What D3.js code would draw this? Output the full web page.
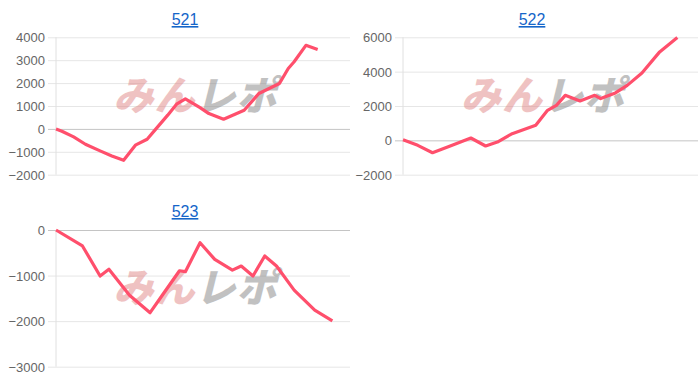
<!DOCTYPE html>
<html>
<head>
<meta charset="utf-8">
<script src="https://cdn.jsdelivr.net/npm/d3@7"></script>
<style>
  body { margin: 0; background: #fff; }
  .tick text { font-family: "Liberation Sans", Arial, sans-serif; font-size: 13px; fill: #666; }
  .title { font-family: "Liberation Sans", Arial, sans-serif; font-size: 16px; fill: #1565c9; text-decoration: underline; }
</style>
</head>
<body>
<div id="chart"></div>
<script>
// machine numbers
var titles = ["521", "522", "523"];

// [step, 差枚] (x = step out of 100)
var data521 = [[0, 0], [2, -100], [6, -350], [10, -670], [15, -960], [19, -1180], [23, -1370],
  [27, -710], [31, -450], [34, 0], [38, 600], [41, 1080], [44, 1310], [49, 930], [52, 670],
  [57, 425], [64, 815], [69, 1545], [76, 1980], [79, 2640], [81, 2930], [85, 3650], [89, 3470]];
var data522 = [[0, 40], [5, -290], [10, -720], [16, -330], [23, 135], [28, -330], [32, -100],
  [37, 390], [45, 875], [47, 1320], [49, 1750], [52, 2040], [55, 2620], [60, 2290], [65, 2620],
  [67, 2430], [72, 2760], [76, 3200], [81, 3920], [87, 5150], [93, 5990]];
var data523 = [[0, 0], [9, -350], [15, -1010], [18, -860], [25, -1430], [29, -1650], [32, -1815],
  [37, -1355], [42, -895], [44, -915], [49, -280], [54, -645], [60, -880], [63, -790], [67, -1010],
  [71, -570], [75, -790], [81, -1320], [88, -1760], [94, -1995]];

var ticks521 = [-2000, -1000, 0, 1000, 2000, 3000, 4000];
var ticks522 = [-2000, 0, 2000, 4000, 6000];
var ticks523 = [-3000, -2000, -1000, 0];

var svg = d3.select("#chart").append("svg")
  .attr("width", 700)
  .attr("height", 384);

var charts = [
  { title: titles[0], data: data521, ticks: ticks521, x0: 56, x1: 350, y0: 37.3, y1: 174.7, tx: 185, ty: 25 },
  { title: titles[1], data: data522, ticks: ticks522, x0: 403, x1: 698, y0: 37.3, y1: 174.7, tx: 532, ty: 25 },
  { title: titles[2], data: data523, ticks: ticks523, x0: 56, x1: 350, y0: 230, y1: 366.7, tx: 185, ty: 217 }
];

charts.forEach(function(c) {
  var g = svg.append("g");

  var x = d3.scaleLinear().domain([0, 100]).range([c.x0, c.x1]);
  var y = d3.scaleLinear().domain(d3.extent(c.ticks)).range([c.y1, c.y0]);

  // grid + tick labels
  var axis = g.append("g")
    .attr("transform", `translate(${c.x0},0)`)
    .call(d3.axisLeft(y).tickValues(c.ticks).tickSize(-(c.x1 - c.x0)).tickPadding(11).tickFormat(d3.format("d")));
  axis.select(".domain").remove();
  axis.selectAll(".tick line")
    .attr("x1", -8)
    .attr("stroke", d => d === 0 ? "#c4c4c4" : "#e6e6e6");
  axis.selectAll(".tick text").attr("dy", "0.35em");

  // left axis line
  g.append("line")
    .attr("x1", c.x0).attr("x2", c.x0)
    .attr("y1", c.y0).attr("y2", c.y1)
    .attr("stroke", "#e0e0e0");

  // watermark
  var cx = (c.x0 + c.x1) / 2, cy = (c.y0 + c.y1) / 2 - 10;
  var wm = g.append("text")
    .attr("x", cx - 4)
    .attr("y", cy + 14)
    .attr("text-anchor", "middle")
    .attr("transform", `skewX(-14)`)
    .attr("transform-origin", `${cx} ${cy}`)
    .style("font-family", "'Noto Sans CJK JP', sans-serif")
    .style("font-weight", "900")
    .style("font-size", "40px")
    .style("letter-spacing", "1px")
    .style("opacity", 0.5);
  wm.append("tspan").attr("fill", "#e08686").text("みん");
  wm.append("tspan").attr("fill", "#858585").text("レポ");

  // line
  g.append("path")
    .datum(c.data)
    .attr("fill", "none")
    .attr("stroke", "#ff4f6c")
    .attr("stroke-width", 3.2)
    .attr("stroke-linejoin", "round")
    .attr("d", d3.line().x(d => x(d[0])).y(d => y(d[1])));

  g.append("text")
    .attr("class", "title")
    .attr("x", c.tx)
    .attr("y", c.ty)
    .attr("text-anchor", "middle")
    .text(c.title);
});
</script>
</body>
</html>
